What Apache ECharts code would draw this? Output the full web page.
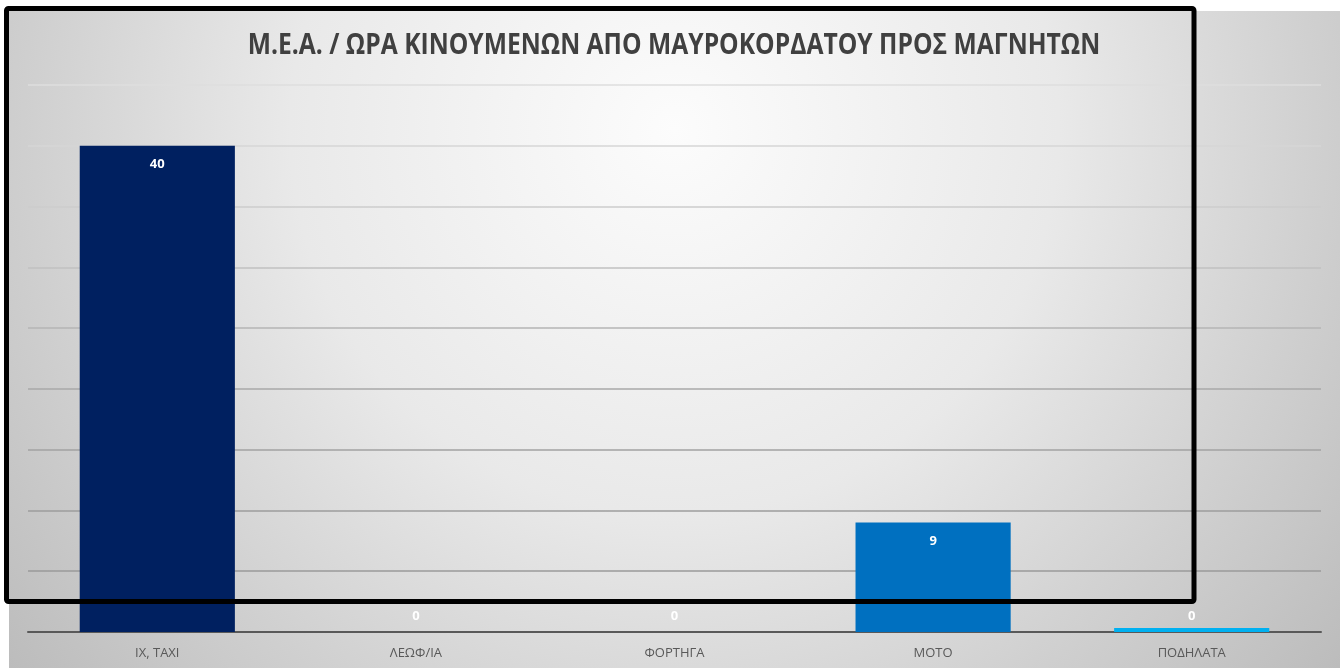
<!DOCTYPE html>
<html>
<head>
<meta charset="utf-8">
<script src="https://cdn.jsdelivr.net/npm/echarts@6/dist/echarts.min.js"></script>
<style>
  html, body { margin: 0; padding: 0; background: #ffffff; }
  #chart { width: 1343px; height: 670px; }
</style>
</head>
<body>
<div id="chart"></div>
<script>
// Vehicles per hour moving from Mavrokordatou towards Magniton
const titleText = 'Μ.Ε.Α. / ΩΡΑ ΚΙΝΟΥΜΕΝΩΝ ΑΠΟ ΜΑΥΡΟΚΟΡΔΑΤΟΥ ΠΡΟΣ ΜΑΓΝΗΤΩΝ';
const categories = ['ΙΧ, ΤΑΧΙ', 'ΛΕΩΦ/ΙΑ', 'ΦΟΡΤΗΓΑ', 'ΜΟΤΟ', 'ΠΟΔΗΛΑΤΑ'];
const values = [40, 0, 0, 9, 0];
const barColors = ['#002060', 'rgba(0,0,0,0)', 'rgba(0,0,0,0)', '#0070C0', '#00B0F0'];

// grid lines get darker towards the bottom of the plot
const gridColors = ['#595959', '#9a9a9a', '#9c9c9c', '#a2a2a2', '#a8a8a8', '#b4b4b4', '#c0c0c0', '#cccccc', '#d6d6d6', '#dedede'];

const chart = echarts.init(document.getElementById('chart'), null, { renderer: 'canvas' });

const seriesData = values.map((v, i) => ({
  value: v,
  itemStyle: { color: barColors[i] },
  label: v === 0
    ? { position: 'top', distance: 5 }
    : { position: 'insideTop', distance: 12 }
}));

chart.setOption({
  animation: false,
  backgroundColor: 'transparent',
  graphic: [
    {
      type: 'rect',
      z: -10,
      silent: true,
      shape: { x: 9, y: 11, width: 1331, height: 657 },
      style: {
        fill: {
          type: 'radial', x: 0.5, y: 0.18, r: 1.3,
          colorStops: [
            { offset: 0, color: '#fcfcfc' },
            { offset: 0.45, color: '#e9e9e9' },
            { offset: 0.75, color: '#d0d0d0' },
            { offset: 1, color: '#bcbcbc' }
          ]
        }
      }
    },
    {
      // condensed bold title, centred over the frame
      type: 'text',
      z: 50,
      silent: true,
      x: 674,
      y: 46,
      scaleX: 0.85,
      style: {
        text: titleText,
        align: 'center',
        verticalAlign: 'middle',
        fontFamily: '"Open Sans", sans-serif',
        fontWeight: 'bold',
        fontSize: 29,
        fill: '#404040'
      }
    },
    {
      type: 'rect',
      z: 100,
      silent: true,
      shape: { x: 6.5, y: 8.5, width: 1187.5, height: 593, r: 2 },
      style: { fill: 'none', stroke: '#000000', lineWidth: 5 }
    }
  ],
  grid: { left: 28, right: 22, top: 85, bottom: 38, containLabel: false },
  xAxis: {
    type: 'category',
    data: categories,
    axisLine: { show: true, lineStyle: { color: '#595959', width: 2 } },
    axisTick: { show: false },
    axisLabel: {
      margin: 15,
      fontFamily: '"Open Sans", sans-serif',
      fontSize: 13,
      color: '#595959'
    }
  },
  yAxis: {
    type: 'value',
    min: 0,
    max: 45,
    interval: 5,
    axisLine: { show: false },
    axisTick: { show: false },
    axisLabel: { show: false },
    splitLine: { show: true, lineStyle: { color: gridColors, width: 1.5 } }
  },
  series: [{
    type: 'bar',
    data: seriesData,
    barWidth: '60%',
    barMinHeight: 4,
    itemStyle: { borderWidth: 0 },
    label: {
      show: true,
      color: '#ffffff',
      fontFamily: '"Open Sans", sans-serif',
      fontWeight: 'bold',
      fontSize: 13
    }
  }]
});
</script>
</body>
</html>
